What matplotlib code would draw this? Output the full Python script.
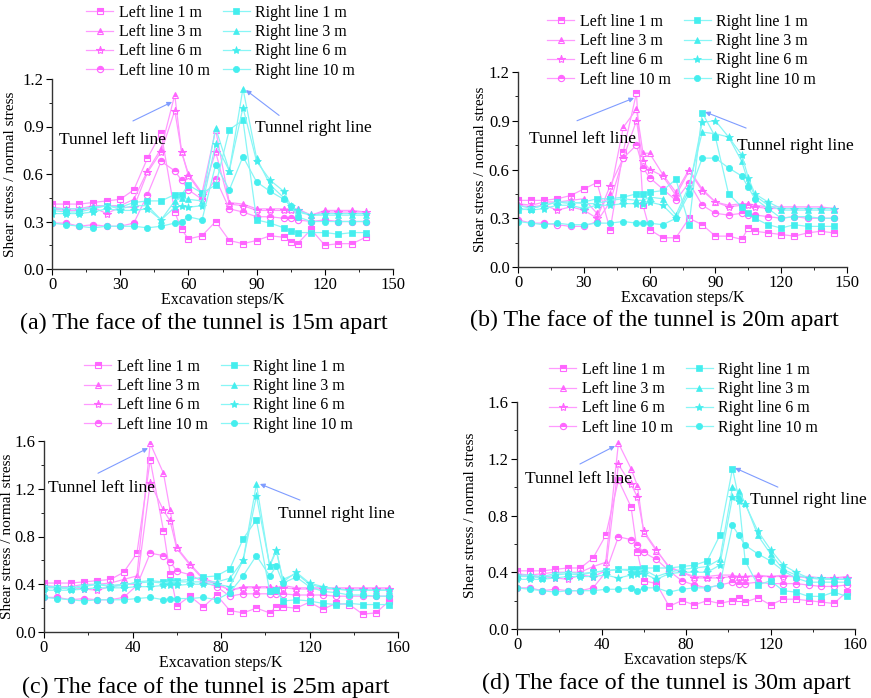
import matplotlib.pyplot as plt
from matplotlib.ticker import MultipleLocator

plt.rcParams['font.family'] = ['Liberation Serif', 'DejaVu Serif']

# ---- panel (a): 15 m apart ----
x_a = [0, 6, 12, 18, 24, 30, 36, 42, 48, 54, 57, 60, 66, 72, 78, 84, 90, 96, 102, 105, 108, 114, 120, 126, 132, 138]
left1_a = [0.41, 0.41, 0.41, 0.42, 0.43, 0.44, 0.50, 0.70, 0.86, 0.36, 0.25, 0.19, 0.21, 0.30, 0.18, 0.16, 0.18, 0.21, 0.20, 0.17, 0.16, 0.25, 0.15, 0.16, 0.16, 0.20]
left3_a = [0.39, 0.38, 0.38, 0.40, 0.40, 0.40, 0.44, 0.62, 0.76, 1.10, 0.74, 0.60, 0.48, 0.88, 0.42, 0.41, 0.38, 0.38, 0.38, 0.38, 0.38, 0.34, 0.37, 0.37, 0.37, 0.36]
left6_a = [0.38, 0.37, 0.37, 0.39, 0.35, 0.39, 0.39, 0.61, 0.74, 1.00, 0.74, 0.59, 0.47, 0.74, 0.41, 0.40, 0.37, 0.37, 0.37, 0.37, 0.37, 0.34, 0.36, 0.36, 0.36, 0.36]
left10_a = [0.29, 0.29, 0.27, 0.28, 0.27, 0.27, 0.29, 0.47, 0.68, 0.62, 0.56, 0.50, 0.44, 0.57, 0.38, 0.36, 0.33, 0.33, 0.32, 0.32, 0.31, 0.30, 0.31, 0.30, 0.30, 0.30]
right1_a = [0.37, 0.36, 0.36, 0.38, 0.40, 0.39, 0.42, 0.43, 0.43, 0.47, 0.47, 0.53, 0.48, 0.53, 0.88, 0.94, 0.31, 0.29, 0.26, 0.24, 0.23, 0.23, 0.23, 0.22, 0.23, 0.23]
right3_a = [0.38, 0.38, 0.38, 0.39, 0.40, 0.38, 0.40, 0.40, 0.31, 0.43, 0.45, 0.44, 0.43, 0.89, 0.62, 1.14, 0.70, 0.53, 0.45, 0.39, 0.36, 0.34, 0.34, 0.34, 0.34, 0.34]
right6_a = [0.35, 0.35, 0.35, 0.36, 0.38, 0.37, 0.37, 0.38, 0.31, 0.39, 0.40, 0.39, 0.40, 0.79, 0.62, 1.02, 0.68, 0.56, 0.49, 0.40, 0.37, 0.34, 0.35, 0.35, 0.35, 0.35]
right10_a = [0.29, 0.28, 0.27, 0.26, 0.27, 0.27, 0.27, 0.26, 0.27, 0.29, 0.30, 0.33, 0.31, 0.66, 0.50, 0.71, 0.55, 0.49, 0.44, 0.40, 0.33, 0.30, 0.30, 0.30, 0.30, 0.30]

# ---- panel (b): 20 m apart ----
x_b = [0, 6, 12, 18, 24, 30, 36, 42, 48, 54, 57, 60, 66, 72, 78, 84, 90, 96, 102, 105, 108, 114, 120, 126, 132, 138, 144]
left1_b = [0.41, 0.41, 0.41, 0.42, 0.44, 0.48, 0.52, 0.23, 0.71, 1.07, 0.38, 0.23, 0.18, 0.18, 0.30, 0.26, 0.19, 0.19, 0.17, 0.24, 0.22, 0.21, 0.20, 0.19, 0.21, 0.22, 0.21]
left3_b = [0.39, 0.38, 0.40, 0.40, 0.41, 0.42, 0.33, 0.45, 0.86, 0.97, 0.70, 0.70, 0.57, 0.46, 0.60, 0.48, 0.40, 0.38, 0.39, 0.39, 0.38, 0.37, 0.37, 0.37, 0.37, 0.37, 0.36]
left6_b = [0.38, 0.37, 0.38, 0.35, 0.37, 0.35, 0.30, 0.50, 0.67, 0.90, 0.65, 0.60, 0.56, 0.44, 0.59, 0.47, 0.40, 0.37, 0.38, 0.38, 0.37, 0.36, 0.36, 0.36, 0.36, 0.36, 0.36]
left10_b = [0.29, 0.27, 0.27, 0.26, 0.25, 0.25, 0.28, 0.40, 0.67, 0.75, 0.61, 0.55, 0.48, 0.41, 0.52, 0.38, 0.33, 0.32, 0.33, 0.32, 0.32, 0.31, 0.30, 0.31, 0.30, 0.30, 0.30]
right1_b = [0.35, 0.36, 0.38, 0.40, 0.39, 0.40, 0.42, 0.42, 0.43, 0.45, 0.45, 0.46, 0.47, 0.54, 0.26, 0.95, 0.80, 0.45, 0.37, 0.33, 0.30, 0.26, 0.24, 0.26, 0.25, 0.25, 0.25]
right3_b = [0.38, 0.36, 0.38, 0.40, 0.40, 0.39, 0.39, 0.41, 0.42, 0.41, 0.41, 0.43, 0.42, 0.32, 0.50, 0.83, 0.82, 0.80, 0.65, 0.52, 0.44, 0.38, 0.35, 0.35, 0.35, 0.35, 0.35]
right6_b = [0.36, 0.35, 0.36, 0.38, 0.38, 0.36, 0.38, 0.38, 0.39, 0.39, 0.39, 0.40, 0.38, 0.30, 0.48, 0.89, 0.90, 0.80, 0.69, 0.55, 0.45, 0.40, 0.36, 0.36, 0.36, 0.36, 0.36]
right10_b = [0.28, 0.27, 0.26, 0.27, 0.26, 0.26, 0.27, 0.27, 0.28, 0.27, 0.27, 0.27, 0.26, 0.30, 0.45, 0.67, 0.67, 0.61, 0.56, 0.49, 0.42, 0.36, 0.30, 0.31, 0.31, 0.30, 0.30]

# ---- panel (c): 25 m apart ----
x_c = [0, 6, 12, 18, 24, 30, 36, 42, 48, 54, 57, 60, 66, 72, 78, 84, 90, 96, 102, 105, 108, 114, 120, 126, 132, 138, 144, 150, 156]
left1_c = [0.41, 0.41, 0.41, 0.42, 0.43, 0.44, 0.50, 0.66, 1.44, 0.85, 0.49, 0.22, 0.30, 0.21, 0.31, 0.18, 0.16, 0.20, 0.16, 0.21, 0.21, 0.20, 0.25, 0.19, 0.24, 0.23, 0.15, 0.16, 0.26]
left3_c = [0.39, 0.38, 0.38, 0.40, 0.40, 0.41, 0.44, 0.47, 1.58, 1.33, 1.02, 0.71, 0.57, 0.45, 0.41, 0.35, 0.38, 0.38, 0.38, 0.37, 0.39, 0.37, 0.37, 0.37, 0.37, 0.37, 0.37, 0.37, 0.37]
left6_c = [0.38, 0.37, 0.37, 0.36, 0.35, 0.38, 0.40, 0.40, 1.25, 1.02, 0.93, 0.70, 0.56, 0.44, 0.40, 0.35, 0.37, 0.37, 0.37, 0.36, 0.37, 0.36, 0.36, 0.36, 0.36, 0.36, 0.36, 0.36, 0.36]
left10_c = [0.29, 0.29, 0.27, 0.28, 0.27, 0.27, 0.29, 0.39, 0.66, 0.64, 0.59, 0.51, 0.48, 0.42, 0.38, 0.30, 0.32, 0.32, 0.32, 0.32, 0.32, 0.31, 0.31, 0.31, 0.30, 0.30, 0.30, 0.30, 0.30]
right1_c = [0.37, 0.37, 0.36, 0.38, 0.40, 0.38, 0.39, 0.42, 0.43, 0.42, 0.43, 0.43, 0.44, 0.46, 0.47, 0.53, 0.78, 0.94, 0.34, 0.35, 0.26, 0.27, 0.26, 0.24, 0.23, 0.24, 0.23, 0.23, 0.23]
right3_c = [0.38, 0.38, 0.37, 0.39, 0.40, 0.39, 0.40, 0.41, 0.42, 0.41, 0.42, 0.42, 0.42, 0.42, 0.42, 0.45, 0.60, 1.24, 0.55, 0.68, 0.44, 0.49, 0.40, 0.37, 0.36, 0.35, 0.35, 0.35, 0.35]
right6_c = [0.35, 0.35, 0.35, 0.36, 0.37, 0.37, 0.37, 0.38, 0.38, 0.39, 0.39, 0.39, 0.40, 0.40, 0.40, 0.38, 0.60, 1.14, 0.56, 0.69, 0.42, 0.50, 0.41, 0.38, 0.36, 0.35, 0.35, 0.35, 0.35]
right10_c = [0.29, 0.28, 0.27, 0.26, 0.27, 0.27, 0.27, 0.28, 0.29, 0.27, 0.28, 0.28, 0.28, 0.29, 0.27, 0.33, 0.47, 0.64, 0.47, 0.55, 0.41, 0.46, 0.38, 0.34, 0.33, 0.31, 0.31, 0.30, 0.30]

# ---- panel (d): 30 m apart ----
x_d = [0, 6, 12, 18, 24, 30, 36, 42, 48, 54, 57, 60, 66, 72, 78, 84, 90, 96, 102, 105, 108, 114, 120, 126, 132, 138, 144, 150, 156]
left1_d = [0.41, 0.41, 0.41, 0.42, 0.43, 0.43, 0.50, 0.66, 1.05, 0.86, 0.54, 0.34, 0.32, 0.16, 0.20, 0.17, 0.20, 0.18, 0.20, 0.22, 0.19, 0.22, 0.17, 0.21, 0.21, 0.20, 0.19, 0.18, 0.26]
left3_d = [0.39, 0.38, 0.39, 0.40, 0.40, 0.40, 0.44, 0.47, 1.31, 1.13, 1.01, 0.68, 0.55, 0.44, 0.40, 0.37, 0.37, 0.38, 0.38, 0.37, 0.37, 0.38, 0.37, 0.38, 0.37, 0.37, 0.36, 0.36, 0.37]
left6_d = [0.38, 0.37, 0.37, 0.36, 0.35, 0.38, 0.37, 0.41, 1.16, 1.02, 0.93, 0.69, 0.56, 0.43, 0.40, 0.36, 0.36, 0.36, 0.37, 0.37, 0.37, 0.37, 0.37, 0.37, 0.37, 0.36, 0.36, 0.36, 0.36]
left10_d = [0.29, 0.29, 0.27, 0.28, 0.27, 0.27, 0.29, 0.40, 0.65, 0.63, 0.59, 0.54, 0.49, 0.41, 0.34, 0.31, 0.29, 0.31, 0.33, 0.32, 0.32, 0.33, 0.32, 0.32, 0.32, 0.31, 0.30, 0.30, 0.31]
right1_d = [0.37, 0.37, 0.36, 0.38, 0.39, 0.38, 0.40, 0.41, 0.42, 0.42, 0.42, 0.43, 0.43, 0.43, 0.44, 0.45, 0.48, 0.66, 1.13, 0.92, 0.48, 0.31, 0.34, 0.27, 0.26, 0.23, 0.23, 0.26, 0.23]
right3_d = [0.38, 0.38, 0.37, 0.39, 0.40, 0.39, 0.40, 0.41, 0.42, 0.41, 0.41, 0.42, 0.37, 0.40, 0.42, 0.43, 0.44, 0.49, 1.00, 0.97, 0.89, 0.66, 0.53, 0.42, 0.38, 0.36, 0.35, 0.35, 0.35]
right6_d = [0.35, 0.35, 0.35, 0.36, 0.37, 0.37, 0.37, 0.38, 0.36, 0.38, 0.39, 0.39, 0.35, 0.39, 0.40, 0.40, 0.40, 0.45, 0.93, 0.90, 0.88, 0.69, 0.56, 0.45, 0.40, 0.36, 0.36, 0.35, 0.35]
right10_d = [0.29, 0.28, 0.27, 0.26, 0.27, 0.27, 0.27, 0.28, 0.28, 0.29, 0.27, 0.29, 0.29, 0.26, 0.28, 0.29, 0.29, 0.31, 0.73, 0.66, 0.59, 0.53, 0.48, 0.41, 0.36, 0.33, 0.33, 0.33, 0.33]

labels = ['Left line 1 m', 'Left line 3 m', 'Left line 6 m', 'Left line 10 m',
          'Right line 1 m', 'Right line 3 m', 'Right line 6 m', 'Right line 10 m']
markers = ['s', '^', '*', 'o']
captions = ['(a) The face of the tunnel is 15m apart', '(b) The face of the tunnel is 20m apart',
            '(c) The face of the tunnel is 25m apart', '(d) The face of the tunnel is 30m apart']

PINK = '#ff66ff'
PINK_LINE = '#ff99ff'
CYAN = '#44eeee'
CYAN_LINE = '#88f6f6'
W, H = 871, 698


def px_rect(x0, x1, y_top, y_bot):
    return [x0 / W, 1 - y_bot / H, (x1 - x0) / W, (y_bot - y_top) / H]


def draw_panel(ax, x, left, right, xmax, ymax, xstep, ystep, ylab_x):
    for i, y in enumerate(left):
        ax.plot(x, y, color=PINK_LINE, lw=0.9, marker=markers[i], ms=4.5 if markers[i] != '*' else 6,
                mec=PINK, mfc=PINK, mfcalt='white', fillstyle='top', mew=0.8, label=labels[i])
    for i, y in enumerate(right):
        ax.plot(x, y, color=CYAN_LINE, lw=0.9, marker=markers[i], ms=4.5 if markers[i] != '*' else 6,
                mec=CYAN, mfc=CYAN, mew=0.5, label=labels[4 + i])
    ax.set_xlim(0, xmax)
    ax.set_ylim(0, ymax)
    ax.xaxis.set_major_locator(MultipleLocator(xstep))
    ax.xaxis.set_minor_locator(MultipleLocator(xstep / 2))
    ax.yaxis.set_major_locator(MultipleLocator(ystep))
    ax.yaxis.set_minor_locator(MultipleLocator(ystep / 2))
    ax.yaxis.set_major_formatter(plt.FormatStrFormatter('%.1f'))
    for s in ['top', 'right']:
        ax.spines[s].set_visible(False)
    for s in ['left', 'bottom']:
        ax.spines[s].set_linewidth(1.0)
        ax.spines[s].set_color('#333333')
    ax.tick_params(which='major', direction='out', length=4, labelsize=12, pad=2)
    ax.tick_params(which='minor', direction='out', length=2)
    ax.set_xlabel('Excavation steps/K', fontsize=11.5, labelpad=-1)
    ax.set_ylabel('Shear stress / normal stress', fontsize=11)
    ax.yaxis.set_label_coords(ylab_x, 0.5)


def annotate(ax, text_xy, arrow_from, arrow_to):
    ax.text(text_xy[0], text_xy[1], text_xy[2], fontsize=12.5, ha='center', va='center')
    ax.annotate('', xy=arrow_to, xytext=arrow_from,
                arrowprops=dict(arrowstyle='-|>', color='#7f9cff', lw=0.8,
                                mutation_scale=7, shrinkA=0, shrinkB=0))


fig = plt.figure(figsize=(W / 100, H / 100), dpi=100)

panels = [
    (px_rect(52, 393, 79, 269), x_a, [left1_a, left3_a, left6_a, left10_a], [right1_a, right3_a, right6_a, right10_a], 150, 1.2, 30, 0.3),
    (px_rect(518, 847, 72, 267), x_b, [left1_b, left3_b, left6_b, left10_b], [right1_b, right3_b, right6_b, right10_b], 150, 1.2, 30, 0.3),
    (px_rect(44, 398, 441, 632), x_c, [left1_c, left3_c, left6_c, left10_c], [right1_c, right3_c, right6_c, right10_c], 160, 1.6, 40, 0.4),
    (px_rect(517, 855, 402, 629), x_d, [left1_d, left3_d, left6_d, left10_d], [right1_d, right3_d, right6_d, right10_d], 160, 1.6, 40, 0.4),
]
ylabel_x = [-0.103, -0.094, -0.085, -0.118]
legend_pos = [(78, -3), (539, 6), (76, 351), (541, 354)]
caption_pos = [(20, 323), (470, 320), (22, 687), (482, 683)]
notes = [
    [((26.4, 0.815, 'Tunnel left line'), (35.6, 0.935), (52.8, 1.055)),
     ((114.8, 0.89, 'Tunnel right line'), (99.9, 0.97), (85.3, 1.13))],
    [((29.6, 0.79, 'Tunnel left line'), (26.9, 0.90), (52.9, 1.04)),
     ((126.3, 0.745, 'Tunnel right line'), (104, 0.855), (85.3, 0.954))],
    [((26.2, 1.206, 'Tunnel left line'), (24.4, 1.33), (47, 1.54)),
     ((132, 0.99, 'Tunnel right line'), (115.7, 1.105), (97.6, 1.24))],
    [((28.9, 1.057, 'Tunnel left line'), (29.8, 1.163), (46.4, 1.29)),
     ((137.7, 0.91, 'Tunnel right line'), (123.5, 1.0), (103.2, 1.135))],
]

for k, (rect, x, left, right, xmax, ymax, xs, ys) in enumerate(panels):
    ax = fig.add_axes(rect)
    draw_panel(ax, x, left, right, xmax, ymax, xs, ys, ylabel_x[k])
    for t, a0, a1 in notes[k]:
        annotate(ax, t, a0, a1)
    lx, ly = legend_pos[k]
    ax.legend(loc='upper left', bbox_to_anchor=(lx / W, 1 - ly / H), bbox_transform=fig.transFigure,
              ncol=2, frameon=False, fontsize=11.5, borderpad=0, labelspacing=0.2,
              handlelength=1.7, handletextpad=0.35, columnspacing=0.8)
    cx, cy = caption_pos[k]
    fig.text(cx / W, 1 - cy / H, captions[k], fontsize=17.3, ha='left', va='center')

fig.savefig('out.png', dpi=100)
